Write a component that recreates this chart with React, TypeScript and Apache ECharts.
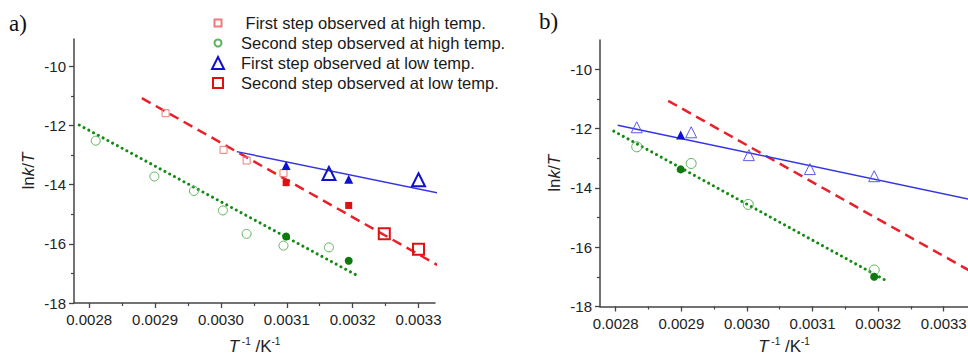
import React, { useEffect, useRef } from 'react';
import * as echarts from 'echarts';

// ---------- tick values ----------
const xMajorTicks = [0.0028, 0.0029, 0.003, 0.0031, 0.0032, 0.0033];
const xMinorTicks = [0.00285, 0.00295, 0.00305, 0.00315, 0.00325];
const yMajorTicks = [-18, -16, -14, -12, -10];
const yMinorTicks = [-17, -15, -13, -11];

// ---------- legend names ----------
const nameFirstHigh = ' First step observed at high temp.';
const nameSecondHigh = 'Second step observed at high temp.';
const nameFirstLow = 'First step observed at low temp.';
const nameSecondLow = 'Second step observed at low temp.';

// ---------- panel a data ----------
const aFirstHigh = [[0.002916, -11.58], [0.003004, -12.82], [0.003039, -13.18], [0.003095, -13.61]];
const aSecondHigh = [[0.00281, -12.51], [0.002899, -13.72], [0.002959, -14.21], [0.003003, -14.87], [0.003039, -15.66], [0.003095, -16.06], [0.003164, -16.12]];
const aSecondHighFilled = [[0.003099, -15.75], [0.003194, -16.57]];
const aFirstLow = [[0.003164, -13.62], [0.0033, -13.83]];
const aFirstLowFilled = [[0.003099, -13.35], [0.003194, -13.81]];
const aSecondLow = [[0.003248, -15.66], [0.0033, -16.18]];
const aSecondLowFilled = [[0.003099, -13.93], [0.003194, -14.7]];
const aRedFit = [[0.00288, -11.07], [0.003337, -16.82]];
const aBlueFit = [[0.003024, -12.88], [0.003343, -14.34]];
const aGreenFit = [[0.002785, -11.98], [0.003211, -17.12]];

// ---------- panel b data ----------
const bFirstOpen = [[0.002832, -11.96], [0.002915, -12.13], [0.003003, -12.9], [0.003096, -13.37], [0.003194, -13.61]];
const bFirstFilled = [[0.002899, -12.22]];
const bSecondOpen = [[0.002832, -12.62], [0.002915, -13.18], [0.003002, -14.56], [0.003194, -16.77]];
const bSecondFilled = [[0.002899, -13.38], [0.003194, -17.0]];
const bRedFit = [[0.00288, -11.07], [0.00334, -16.8]];
const bBlueFit = [[0.002803, -11.89], [0.00334, -14.39]];
const bGreenFit = [[0.002797, -12.09], [0.003215, -17.16]];

const FONT = '"Liberation Sans", Arial, Helvetica, sans-serif';
const AXIS = '#444';
const TXT = '#222';

function majorX(grid: number, min: number, max: number, withName: boolean, gap: number) {
  return {
    type: 'value', gridIndex: grid, min, max, position: 'bottom',
    axisLine: { show: true, onZero: false, lineStyle: { color: AXIS, width: 1.5 } },
    axisTick: { show: true, customValues: xMajorTicks, length: 5, lineStyle: { color: AXIS, width: 1.3 } },
    axisLabel: { show: true, customValues: xMajorTicks, formatter: (v: number) => v.toFixed(4), margin: 9, fontSize: 15, color: TXT, fontFamily: FONT },
    splitLine: { show: false },
    name: withName ? '{i|T}{s| -1} /K{s|-1}' : '',
    nameLocation: 'middle', nameGap: gap,
    nameTextStyle: {
      fontSize: 17, color: TXT, fontFamily: FONT, lineHeight: 20, verticalAlign: 'top',
      rich: {
        i: { fontStyle: 'italic', fontSize: 17, lineHeight: 20, fontFamily: FONT, color: TXT },
        s: { fontSize: 10, lineHeight: 10, verticalAlign: 'top', fontFamily: FONT, color: TXT },
      },
    },
  };
}
function minorX(grid: number, min: number, max: number) {
  return {
    type: 'value', gridIndex: grid, min, max, position: 'bottom',
    axisLine: { show: false, onZero: false },
    axisTick: { show: true, customValues: xMinorTicks, length: 3, lineStyle: { color: AXIS, width: 1.2 } },
    axisLabel: { show: false },
    splitLine: { show: false },
  };
}
function majorY(grid: number, min: number, max: number) {
  return {
    type: 'value', gridIndex: grid, min, max, position: 'left',
    axisLine: { show: true, onZero: false, lineStyle: { color: AXIS, width: 1.5 } },
    axisTick: { show: true, customValues: yMajorTicks, length: 5, lineStyle: { color: AXIS, width: 1.3 } },
    axisLabel: { show: true, customValues: yMajorTicks, margin: 8, fontSize: 15, color: TXT, fontFamily: FONT },
    splitLine: { show: false },
    name: 'ln{i|k}/{i|T}', nameLocation: 'middle', nameGap: 37,
    nameTextStyle: {
      fontSize: 17, color: TXT, fontFamily: FONT,
      rich: { i: { fontStyle: 'italic', fontSize: 17, fontFamily: FONT, color: TXT } },
    },
  };
}
function minorY(grid: number, min: number, max: number) {
  return {
    type: 'value', gridIndex: grid, min, max, position: 'left',
    axisLine: { show: false, onZero: false },
    axisTick: { show: true, customValues: yMinorTicks, length: 3, lineStyle: { color: AXIS, width: 1.2 } },
    axisLabel: { show: false },
    splitLine: { show: false },
  };
}

function scatter(name: string, data: number[][], xi: number, symbol: string, size: number, color: string, filled: boolean, bw: number) {
  return {
    type: 'scatter', name, data, xAxisIndex: xi, yAxisIndex: xi,
    symbol, symbolSize: size, z: 5,
    itemStyle: filled
      ? { color, borderColor: color, borderWidth: 0, opacity: 1 }
      : { color: 'rgba(255,255,255,0)', borderColor: color, borderWidth: bw, opacity: 1 },
    emphasis: { disabled: true },
  };
}
function fit(name: string, data: number[][], xi: number, color: string, width: number, type: any, cap: string) {
  return {
    type: 'line', name, data, xAxisIndex: xi, yAxisIndex: xi,
    symbol: 'none', clip: false, z: 3, silent: true,
    lineStyle: { color, width, type, cap },
  };
}

const C_PINK = '#f07a7a';
const C_LGREEN = '#5cb35c';
const C_BLUE = '#1010d0';
const C_RED = '#e01010';
const C_DGREEN = '#0d7a0d';
const C_LBLUE = '#5a5ae6';
const C_LINE_BLUE = '#3535e0';
const C_LINE_RED = '#e8202a';
const C_LINE_GREEN = '#148a14';

const legendRows = [
  { name: nameFirstHigh, size: 7, y: 23 },
  { name: nameSecondHigh, size: 7, y: 43 },
  { name: nameFirstLow, size: 12, y: 63 },
  { name: nameSecondLow, size: 10, y: 83 },
];
const LEGEND_ICON_X = 217;
const LEGEND_TEXT_X = 240;

const option: any = {
  animation: false,
  backgroundColor: '#fff',
  grid: [
    { left: 74, top: 39, width: 361, height: 264, containLabel: false, outerBoundsMode: 'none' },
    { left: 600, top: 40, width: 368, height: 266.5, containLabel: false, outerBoundsMode: 'none' },
  ],
  xAxis: [
    majorX(0, 0.002777, 0.003325, true, 33),
    minorX(0, 0.002777, 0.003325),
    majorX(1, 0.002776, 0.003337, true, 30),
    minorX(1, 0.002776, 0.003337),
  ],
  yAxis: [
    majorY(0, -18, -9.07),
    minorY(0, -18, -9.07),
    majorY(1, -18, -9.02),
    minorY(1, -18, -9.02),
  ],
  legend: legendRows.map((r) => {
    const left = LEGEND_ICON_X - r.size / 2;
    const pad = LEGEND_TEXT_X - (left + r.size + 5);
    return {
      data: [r.name], left, top: r.y - 10, orient: 'horizontal',
      itemWidth: r.size, itemHeight: r.size, itemGap: 0, padding: 0, selectedMode: false,
      textStyle: { fontSize: 16.5, color: '#1a1a1a', fontFamily: FONT, lineHeight: 20, padding: [0, 0, 0, pad] },
    };
  }),
  graphic: [
    { type: 'text', left: 9, top: 12, style: { text: 'a)', fontSize: 23, fontFamily: '"Liberation Serif", "Times New Roman", serif', fill: '#111' } },
    { type: 'text', left: 539, top: 10, style: { text: 'b)', fontSize: 23, fontFamily: '"Liberation Serif", "Times New Roman", serif', fill: '#111' } },
  ],
  series: [
    // panel a fits
    fit('a red fit', aRedFit, 0, C_LINE_RED, 2.5, [10, 6], 'butt'),
    fit('a blue fit', aBlueFit, 0, C_LINE_BLUE, 1.5, 'solid', 'butt'),
    fit('a green fit', aGreenFit, 0, C_LINE_GREEN, 3, [0.01, 5.4], 'round'),
    // panel a points
    scatter(nameFirstHigh, aFirstHigh, 0, 'rect', 7, C_PINK, false, 1),
    scatter(nameSecondHigh, aSecondHigh, 0, 'circle', 9, C_LGREEN, false, 1),
    scatter(nameFirstLow, aFirstLow, 0, 'triangle', 13, C_BLUE, false, 2),
    scatter(nameSecondLow, aSecondLow, 0, 'rect', 11, C_RED, false, 2),
    scatter('a first low filled', aFirstLowFilled, 0, 'triangle', 9, C_BLUE, true, 0),
    scatter('a second low filled', aSecondLowFilled, 0, 'rect', 7, C_RED, true, 0),
    scatter('a second high filled', aSecondHighFilled, 0, 'circle', 8, C_DGREEN, true, 0),
    // panel b fits
    fit('b red fit', bRedFit, 2, C_LINE_RED, 2.5, [10, 6], 'butt'),
    fit('b blue fit', bBlueFit, 2, C_LINE_BLUE, 1.5, 'solid', 'butt'),
    fit('b green fit', bGreenFit, 2, C_LINE_GREEN, 3, [0.01, 5.4], 'round'),
    // panel b points
    scatter('b first open', bFirstOpen, 2, 'triangle', 11, C_LBLUE, false, 1),
    scatter('b first filled', bFirstFilled, 2, 'triangle', 9, C_BLUE, true, 0),
    scatter('b second open', bSecondOpen, 2, 'circle', 10, C_LGREEN, false, 1),
    scatter('b second filled', bSecondFilled, 2, 'circle', 8, C_DGREEN, true, 0),
  ],
};

export default function App() {
  const ref = useRef<HTMLDivElement>(null);
  useEffect(() => {
    if (!ref.current) return;
    const chart = echarts.init(ref.current, null, { renderer: 'svg' });
    chart.setOption(option);
    return () => chart.dispose();
  }, []);
  return (
    <div
      ref={ref}
      style={{ position: 'fixed', left: 0, top: 0, width: 968, height: 357, background: '#fff' }}
    />
  );
}
